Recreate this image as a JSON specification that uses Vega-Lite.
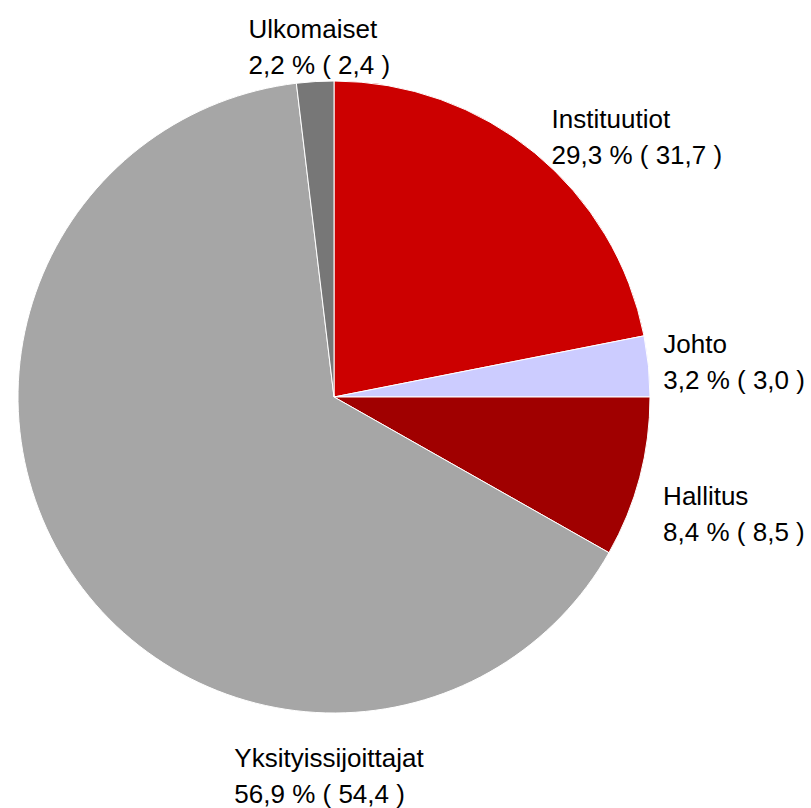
{
  "$schema": "https://vega.github.io/schema/vega-lite/v6.json",
  "width": 668,
  "height": 794,
  "autosize": {"type": "none"},
  "padding": {"left": 0, "top": 0, "right": 143, "bottom": 14},
  "background": "white",
  "data": {
    "values": [
      {"category": "Instituutiot", "value": 21.9, "order": 1, "label": "Instituutiot\n29,3 % ( 31,7 )"},
      {"category": "Johto", "value": 3.1, "order": 2, "label": "Johto\n3,2 % ( 3,0 )"},
      {"category": "Hallitus", "value": 8.2, "order": 3, "label": "Hallitus\n8,4 % ( 8,5 )"},
      {"category": "Yksityissijoittajat", "value": 64.9, "order": 4, "label": "Yksityissijoittajat\n56,9 % ( 54,4 )"},
      {"category": "Ulkomaiset", "value": 1.9, "order": 5, "label": "Ulkomaiset\n2,2 % ( 2,4 )"}
    ]
  },
  "encoding": {
    "theta": {"field": "value", "type": "quantitative", "stack": true},
    "order": {"field": "order", "type": "quantitative"}
  },
  "layer": [
    {
      "mark": {"type": "arc", "outerRadius": 316, "stroke": "white", "strokeWidth": 1},
      "encoding": {
        "color": {
          "field": "category",
          "type": "nominal",
          "scale": {
            "domain": ["Instituutiot", "Johto", "Hallitus", "Yksityissijoittajat", "Ulkomaiset"],
            "range": ["#CC0000", "#CCCCFF", "#A00000", "#A6A6A6", "#777777"]
          },
          "legend": null
        }
      }
    },
    {
      "mark": {
        "type": "text",
        "radius": 360,
        "align": "left",
        "baseline": "alphabetic",
        "font": "'Liberation Sans', Arial, sans-serif",
        "fontSize": 26,
        "lineHeight": 36,
        "lineBreak": "\n",
        "color": "black",
        "dx": {"expr": "datum.category === 'Instituutiot' ? -11 : datum.category === 'Johto' ? -29 : datum.category === 'Hallitus' ? -19 : datum.category === 'Yksityissijoittajat' ? 200 : -64"},
        "dy": {"expr": "datum.category === 'Instituutiot' ? 9 : datum.category === 'Johto' ? -9 : datum.category === 'Hallitus' ? 16 : datum.category === 'Yksityissijoittajat' ? 170 : 0"}
      },
      "encoding": {
        "text": {"field": "label"},
        "detail": {"field": "category"}
      }
    }
  ],
  "config": {"view": {"stroke": null}}
}
